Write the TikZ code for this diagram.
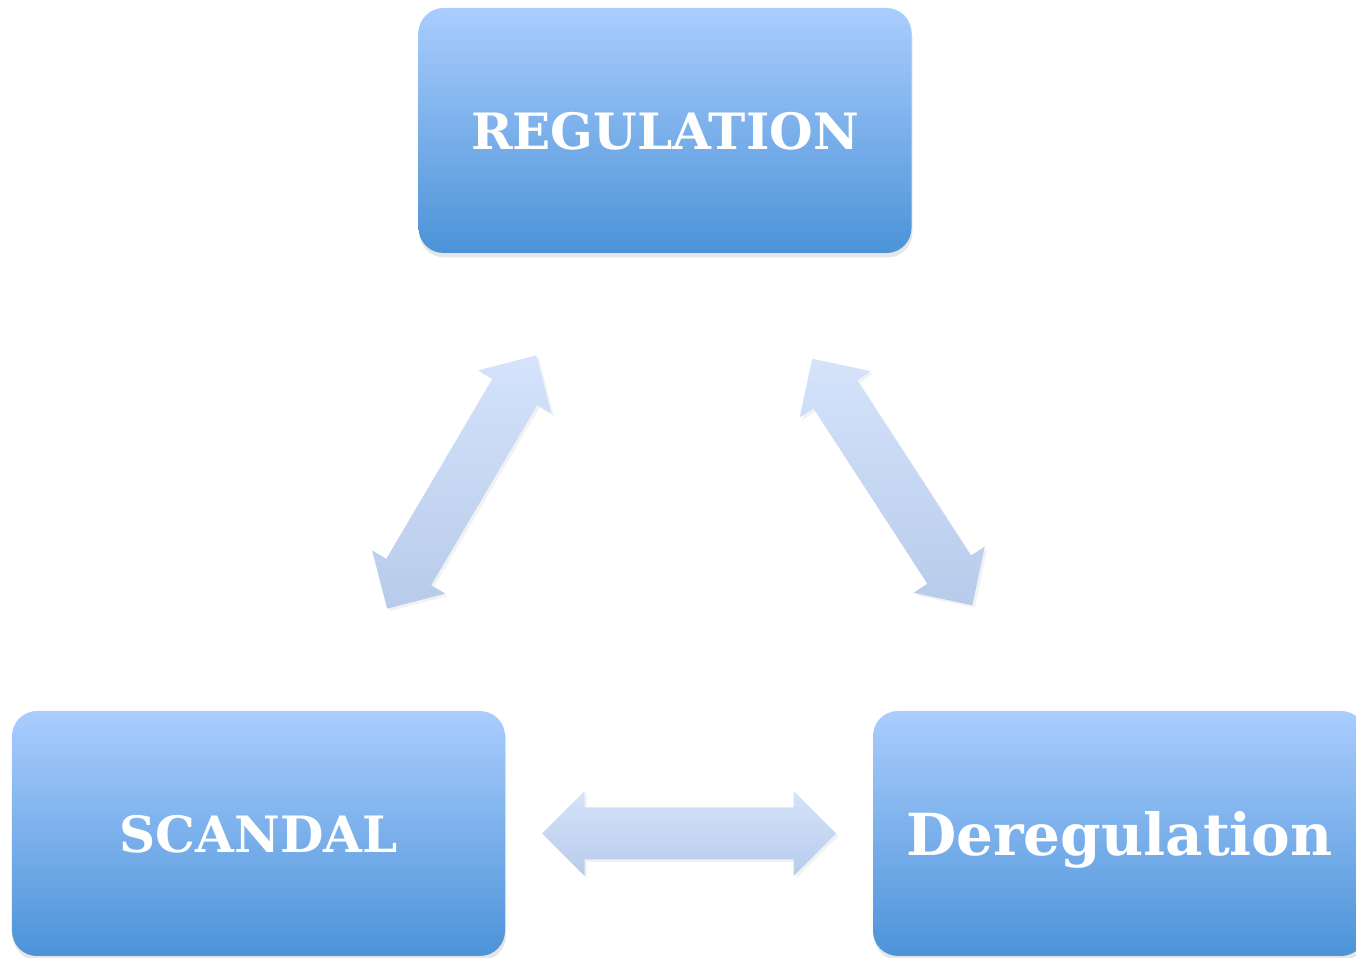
\documentclass[tikz,border=0pt]{standalone}
\usepackage{fontspec}
\newfontfamily\boxfont{DejaVu Serif}
\usetikzlibrary{calc,shadows}
\definecolor{boxtop}{RGB}{170,205,254}
\definecolor{boxbottom}{RGB}{76,147,216}
\definecolor{arrowtop}{RGB}{213,227,251}
\definecolor{arrowbottom}{RGB}{183,203,234}
\tikzset{
	stage/.style={rectangle, rounded corners=0.5cm, minimum width=9.86cm, minimum height=4.9cm, inner sep=0pt,
		top color=boxtop, bottom color=boxbottom, text=white, text depth=0pt,
		font=\boxfont\bfseries\fontsize{28.5}{34}\selectfont,
		drop shadow={shadow xshift=0.2mm, shadow yshift=-0.9mm, opacity=0.2}},
	fatarrow/.style={top color=arrowtop, bottom color=arrowbottom,
		drop shadow={shadow xshift=0.5mm, shadow yshift=-0.5mm, opacity=0.1}}
}
\def\fatarrow(#1)(#2){\shade[fatarrow] ($(#1)+(#2:2.94)$) -- ($(#1)+(#2:2.09)+(#2+90:0.85)$) -- ($(#1)+(#2:2.09)+(#2+90:0.52)$) -- ($(#1)+(#2+180:2.09)+(#2+90:0.52)$) -- ($(#1)+(#2+180:2.09)+(#2+90:0.85)$) -- ($(#1)+(#2+180:2.94)$) -- ($(#1)+(#2+180:2.09)+(#2-90:0.85)$) -- ($(#1)+(#2+180:2.09)+(#2-90:0.52)$) -- ($(#1)+(#2:2.09)+(#2-90:0.52)$) -- ($(#1)+(#2:2.09)+(#2-90:0.85)$) -- cycle;}

\begin{document}
\begin{tikzpicture}
	%%%%% START %%%%%
	
	\useasboundingbox (0, 0) rectangle (27.12, 19.16);
	
	\node[stage] (reg) at (13.30, 16.55) {REGULATION};
	\node[stage] (scan) at (5.17, 2.49) {SCANDAL};
	\node[stage, font=\boxfont\bfseries\fontsize{33}{40}\selectfont] (dereg) at (22.39, 2.49) {Deregulation};
	
	\coordinate (lar) at ($(reg.south west)!0.5!(scan.north east)$);
	\coordinate (rar) at ($(reg.south east)!0.5!(dereg.north west)$);
	\coordinate (bar) at ($(scan.east)!0.5!(dereg.west)$);
	
	\fatarrow(lar)(59.5);
	\fatarrow(rar)(-57);
	\fatarrow(bar)(0);
	
	%%%%% END %%%%%
\end{tikzpicture}
\end{document}
